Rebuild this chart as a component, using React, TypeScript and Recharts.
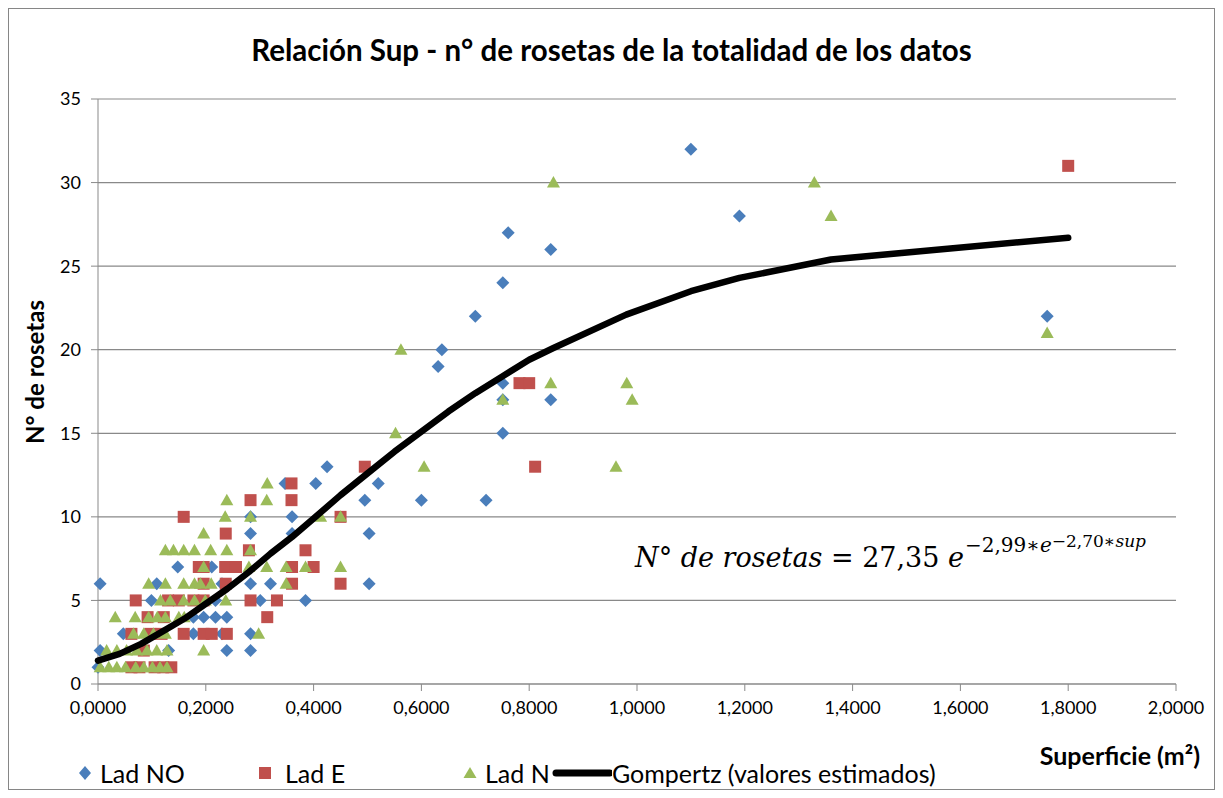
import React from 'react';
import { ScatterChart, Scatter, XAxis, YAxis, CartesianGrid } from 'recharts';

// [superficie, n° de rosetas]
const ladNO: [number, number][] = [
  [0.0, 1], [0.004, 2], [0.004, 6], [0.047, 3], [0.099, 5], [0.109, 6], [0.131, 2],
  [0.148, 7], [0.177, 4], [0.177, 3], [0.196, 4], [0.211, 7], [0.218, 5], [0.218, 4],
  [0.239, 4], [0.23, 6], [0.23, 3], [0.239, 2], [0.283, 10], [0.283, 9], [0.283, 6],
  [0.283, 3], [0.283, 2], [0.301, 5], [0.32, 6], [0.36, 10], [0.36, 9], [0.347, 12],
  [0.385, 5], [0.404, 12], [0.425, 13], [0.495, 11], [0.503, 9], [0.503, 6], [0.52, 12],
  [0.6, 11], [0.631, 19], [0.638, 20], [0.7, 22], [0.72, 11], [0.751, 24], [0.751, 18],
  [0.751, 17], [0.751, 15], [0.761, 27], [0.84, 26], [0.84, 17], [1.1, 32], [1.19, 28],
  [1.761, 22],
];

const ladE: [number, number][] = [
  [0.062, 1], [0.077, 1], [0.105, 1], [0.121, 1], [0.136, 1], [0.085, 2], [0.062, 3],
  [0.097, 3], [0.118, 3], [0.159, 3], [0.196, 3], [0.211, 3], [0.239, 3], [0.092, 4],
  [0.122, 4], [0.314, 4], [0.07, 5], [0.13, 5], [0.15, 5], [0.177, 5], [0.196, 5],
  [0.283, 5], [0.332, 5], [0.196, 6], [0.237, 6], [0.36, 6], [0.45, 6], [0.187, 7],
  [0.236, 7], [0.256, 7], [0.36, 7], [0.4, 7], [0.196, 7], [0.28, 8], [0.385, 8],
  [0.237, 9], [0.159, 10], [0.45, 10], [0.283, 11], [0.359, 11], [0.359, 12], [0.495, 13],
  [0.782, 18], [0.8, 18], [0.811, 13], [1.8, 31],
];

const ladN: [number, number][] = [
  [0.004, 1], [0.02, 1], [0.035, 1], [0.051, 1], [0.07, 1], [0.085, 1], [0.101, 1],
  [0.115, 1], [0.128, 1],
  [0.016, 2], [0.035, 2], [0.053, 2], [0.072, 2], [0.091, 2], [0.109, 2], [0.128, 2], [0.196, 2],
  [0.066, 3], [0.085, 3], [0.103, 3], [0.125, 3], [0.298, 3],
  [0.032, 4], [0.069, 4], [0.094, 4], [0.11, 4], [0.125, 4], [0.15, 4], [0.16, 4],
  [0.116, 5], [0.134, 5], [0.159, 5], [0.179, 5], [0.199, 5], [0.237, 5],
  [0.094, 6], [0.125, 6], [0.159, 6], [0.179, 6], [0.19, 6], [0.21, 6], [0.349, 6],
  [0.196, 7], [0.28, 7], [0.313, 7], [0.349, 7], [0.385, 7], [0.45, 7],
  [0.125, 8], [0.14, 8], [0.159, 8], [0.179, 8], [0.209, 8], [0.239, 8], [0.283, 8],
  [0.196, 9], [0.236, 10], [0.283, 10], [0.413, 10], [0.45, 10], [0.239, 11], [0.313, 11],
  [0.314, 12], [0.552, 15], [0.562, 20], [0.605, 13], [0.751, 17], [0.84, 18], [0.845, 30],
  [0.961, 13], [0.981, 18], [0.991, 17], [1.329, 30], [1.36, 28], [1.761, 21],
];

// estimated curve
const gompertz: [number, number][] = [
  [0.0, 1.4], [0.04, 1.8], [0.08, 2.4], [0.12, 3.15], [0.16, 3.9], [0.2, 4.8], [0.24, 5.7],
  [0.28, 6.7], [0.32, 7.8], [0.36, 8.8], [0.4, 9.9], [0.45, 11.3], [0.5, 12.6], [0.55, 13.9],
  [0.6, 15.1], [0.65, 16.3], [0.7, 17.4], [0.75, 18.4], [0.8, 19.4], [0.845, 20.1],
  [0.98, 22.1], [1.1, 23.5], [1.19, 24.3], [1.33, 25.2], [1.36, 25.4], [1.8, 26.7],
];

const xTicks = [0, 0.2, 0.4, 0.6, 0.8, 1.0, 1.2, 1.4, 1.6, 1.8, 2.0];
const yTicks = [0, 5, 10, 15, 20, 25, 30, 35];

const BLUE = '#4a7ebb';
const RED = '#c0504d';
const GREEN = '#9bbb59';
const GRID = '#898989';

const toPts = (arr: [number, number][]) => arr.map(([x, y]) => ({ x, y }));

const Diamond = (p: any) => (
  <polygon
    points={`${p.cx},${p.cy - 6.5} ${p.cx + 6.5},${p.cy} ${p.cx},${p.cy + 6.5} ${p.cx - 6.5},${p.cy}`}
    fill={BLUE}
  />
);
const Square = (p: any) => <rect x={p.cx - 6} y={p.cy - 6} width={12} height={12} fill={RED} />;
const Triangle = (p: any) => (
  <polygon
    points={`${p.cx},${p.cy - 6.5} ${p.cx + 6.5},${p.cy + 5} ${p.cx - 6.5},${p.cy + 5}`}
    fill={GREEN}
  />
);

const fmtX = (v: number) => v.toFixed(4).replace('.', ',');

export default function App() {
  const font = 'Lato, "Open Sans", sans-serif';
  return (
    <div
      style={{
        position: 'relative',
        width: 1205,
        height: 780,
        border: '1px solid #868686',
        fontFamily: font,
        background: '#fff',
      }}
    >
      <div
        style={{
          position: 'absolute', top: 26, left: 0, width: '100%', textAlign: 'center',
          fontSize: 29.5, lineHeight: '30px', fontWeight: 700,
        }}
      >
        Relación Sup - n° de rosetas de la totalidad de los datos
      </div>

      <ScatterChart width={1205} height={780} margin={{ top: 90, right: 38, bottom: 65, left: 0 }}>
        <CartesianGrid vertical={false} stroke={GRID} strokeWidth={1.2} />
        <XAxis
          type="number"
          dataKey="x"
          domain={[0, 2]}
          ticks={xTicks}
          tickFormatter={fmtX}
          height={40}
          tickSize={7}
          tickMargin={10}
          stroke={GRID}
          tick={{ fill: '#000', fontSize: 18, fontFamily: font }}
        />
        <YAxis
          type="number"
          dataKey="y"
          domain={[0, 35]}
          ticks={yTicks}
          width={89}
          tickSize={7}
          tickMargin={10}
          stroke={GRID}
          tick={{ fill: '#000', fontSize: 18, fontFamily: font }}
        />
        <Scatter name="Lad NO" data={toPts(ladNO)} shape={Diamond} isAnimationActive={false} />
        <Scatter name="Lad E" data={toPts(ladE)} shape={Square} isAnimationActive={false} />
        <Scatter name="Lad N" data={toPts(ladN)} shape={Triangle} isAnimationActive={false} />
        <Scatter
          name="Gompertz (valores estimados)"
          data={toPts(gompertz)}
          line={{ stroke: '#000', strokeWidth: 6.5, strokeLinecap: 'round', strokeLinejoin: 'round' }}
          lineType="joint"
          fill="#000"
          shape={() => <g />}
          isAnimationActive={false}
        />
      </ScatterChart>

      {/* y axis title */}
      <div
        style={{
          position: 'absolute', left: 26, top: 363, transform: 'translate(-50%, -50%) rotate(-90deg)',
          fontSize: 24, fontWeight: 700, whiteSpace: 'nowrap', lineHeight: '24px',
        }}
      >
        N° de rosetas
      </div>

      {/* x axis title */}
      <div
        style={{
          position: 'absolute', right: 14, top: 733, fontSize: 25, fontWeight: 700, lineHeight: '26px',
        }}
      >
        Superficie (m²)
      </div>

      {/* fitted equation */}
      <div
        style={{
          position: 'absolute', left: 626, top: 534, fontFamily: '"DejaVu Serif", serif',
          fontSize: 27, whiteSpace: 'nowrap', lineHeight: '30px',
        }}
      >
        <i>N</i>° <i>de rosetas</i> = 27,35 <i>e</i>
        <span style={{ fontSize: 20, position: 'relative', top: -15, marginLeft: 1 }}>
          −2,99∗<i>e</i>
          <span style={{ fontSize: 17, position: 'relative', top: -5 }}>
            −2,70∗<i>sup</i>
          </span>
        </span>
      </div>

      {/* legend */}
      <div
        style={{
          position: 'absolute', left: 0, top: 750, height: 28, width: 1000, fontSize: 25,
          lineHeight: '28px', whiteSpace: 'nowrap',
        }}
      >
        <svg width={14} height={14} style={{ position: 'absolute', left: 69, top: 7 }}>
          <polygon points="7,0 13,7 7,14 1,7" fill={BLUE} />
        </svg>
        <span style={{ position: 'absolute', left: 91 }}>Lad NO</span>
        <svg width={14} height={14} style={{ position: 'absolute', left: 249, top: 7 }}>
          <rect x={1} y={1} width={12} height={12} fill={RED} />
        </svg>
        <span style={{ position: 'absolute', left: 276 }}>Lad E</span>
        <svg width={14} height={14} style={{ position: 'absolute', left: 454, top: 7 }}>
          <polygon points="7,1 13.5,12 0.5,12" fill={GREEN} />
        </svg>
        <span style={{ position: 'absolute', left: 476 }}>Lad N</span>
        <svg width={60} height={14} style={{ position: 'absolute', left: 543, top: 7 }}>
          <line x1={4} y1={7} x2={58} y2={7} stroke="#000" strokeWidth={7} strokeLinecap="round" />
        </svg>
        <span style={{ position: 'absolute', left: 603 }}>Gompertz (valores estimados)</span>
      </div>
    </div>
  );
}
